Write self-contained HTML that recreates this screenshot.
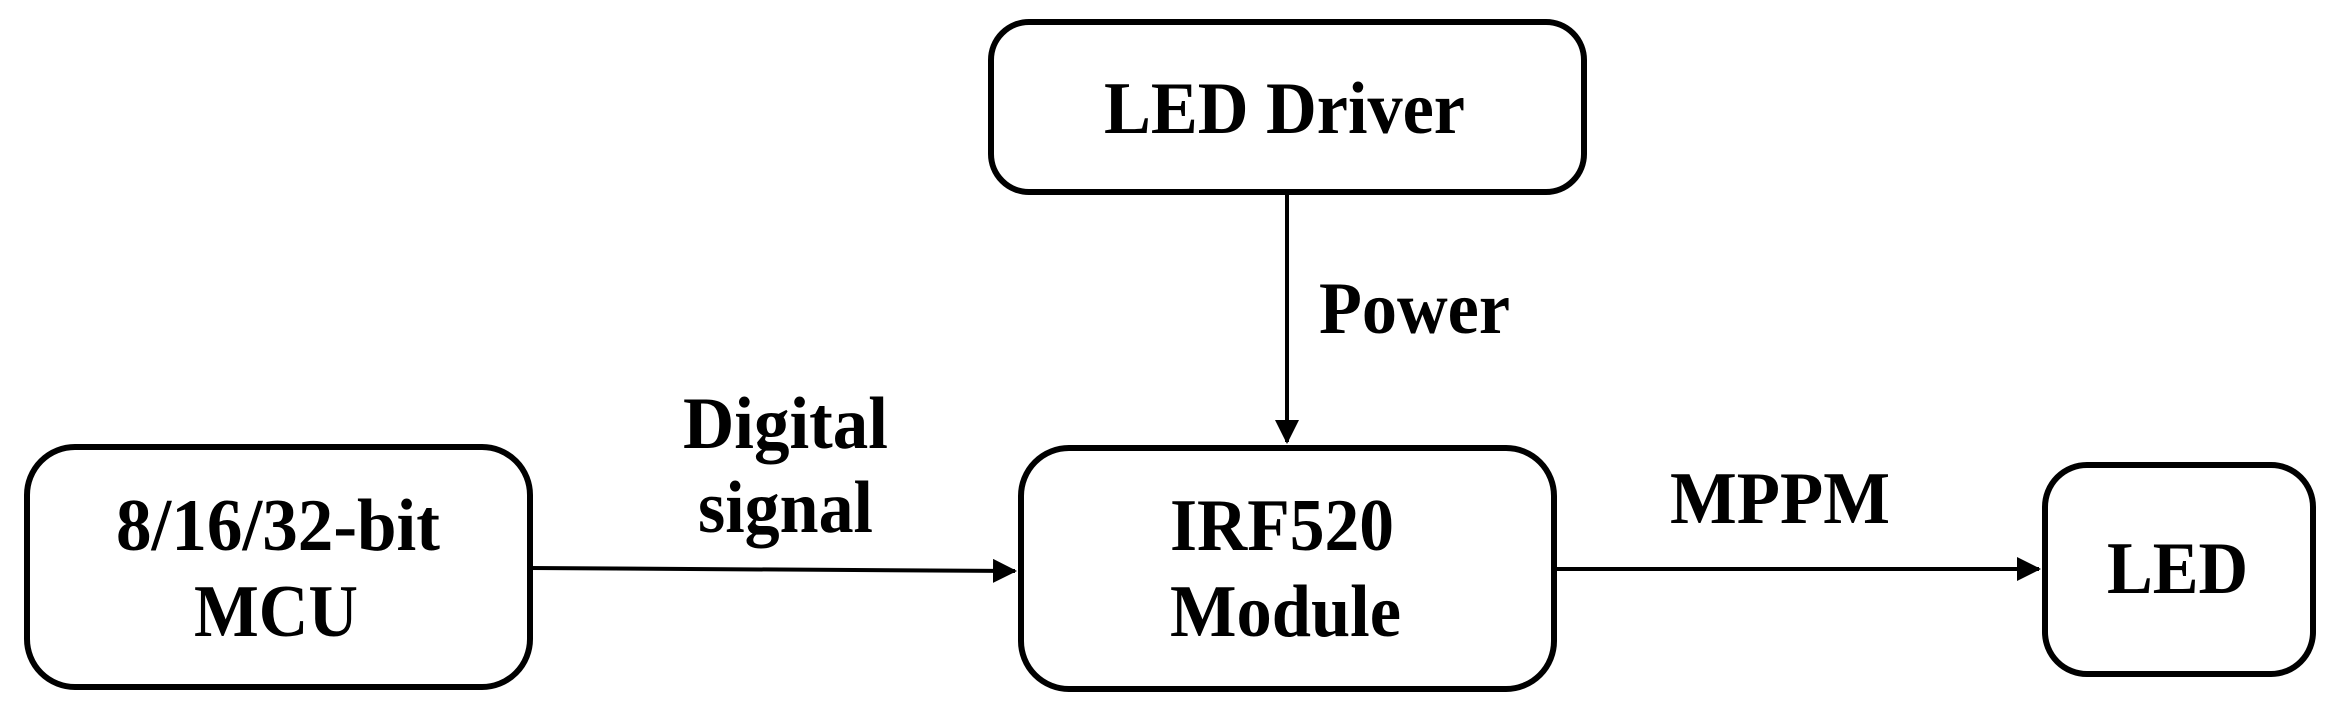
<!DOCTYPE html>
<html><head><meta charset="utf-8"><style>html,body{margin:0;padding:0;background:#fff}svg{display:block}</style></head>
<body>
<svg width="2339" height="710" viewBox="0 0 2339 710" xmlns="http://www.w3.org/2000/svg">
<defs>
<marker id="a" markerWidth="6" markerHeight="6" refX="5.5" refY="3" orient="auto" markerUnits="strokeWidth">
<path d="M0,0 L6,3 L0,6 z" fill="#000"/>
</marker>
</defs>
<g fill="none" stroke="#000" stroke-width="6">
<rect x="27" y="447" width="503" height="240" rx="48"/>
<rect x="991" y="22" width="593" height="170" rx="38"/>
<rect x="1021" y="448" width="533" height="241" rx="48"/>
<rect x="2045" y="465" width="268" height="209" rx="42"/>
<line x1="1287" y1="192" x2="1287" y2="442" stroke-width="4" marker-end="url(#a)"/>
<line x1="530" y1="568" x2="1015" y2="571" stroke-width="4" marker-end="url(#a)"/>
<line x1="1554" y1="569" x2="2039" y2="569" stroke-width="4" marker-end="url(#a)"/>
</g>
<g font-family="Liberation Serif, serif" font-weight="bold" font-size="74" fill="#000">
<text x="116" y="550" textLength="324" lengthAdjust="spacingAndGlyphs">8/16/32-bit</text>
<text x="194" y="636" textLength="164" lengthAdjust="spacingAndGlyphs">MCU</text>
<text x="1104" y="133" textLength="361" lengthAdjust="spacingAndGlyphs">LED Driver</text>
<text x="1319" y="333" textLength="191" lengthAdjust="spacingAndGlyphs">Power</text>
<text x="683" y="448" textLength="205" lengthAdjust="spacingAndGlyphs">Digital</text>
<text x="698" y="532" textLength="175" lengthAdjust="spacingAndGlyphs">signal</text>
<text x="1170" y="550" textLength="224" lengthAdjust="spacingAndGlyphs">IRF520</text>
<text x="1170" y="636" textLength="231" lengthAdjust="spacingAndGlyphs">Module</text>
<text x="1670" y="523" textLength="220" lengthAdjust="spacingAndGlyphs">MPPM</text>
<text x="2107" y="593" textLength="141" lengthAdjust="spacingAndGlyphs">LED</text>
</g>
</svg>
</body></html>
